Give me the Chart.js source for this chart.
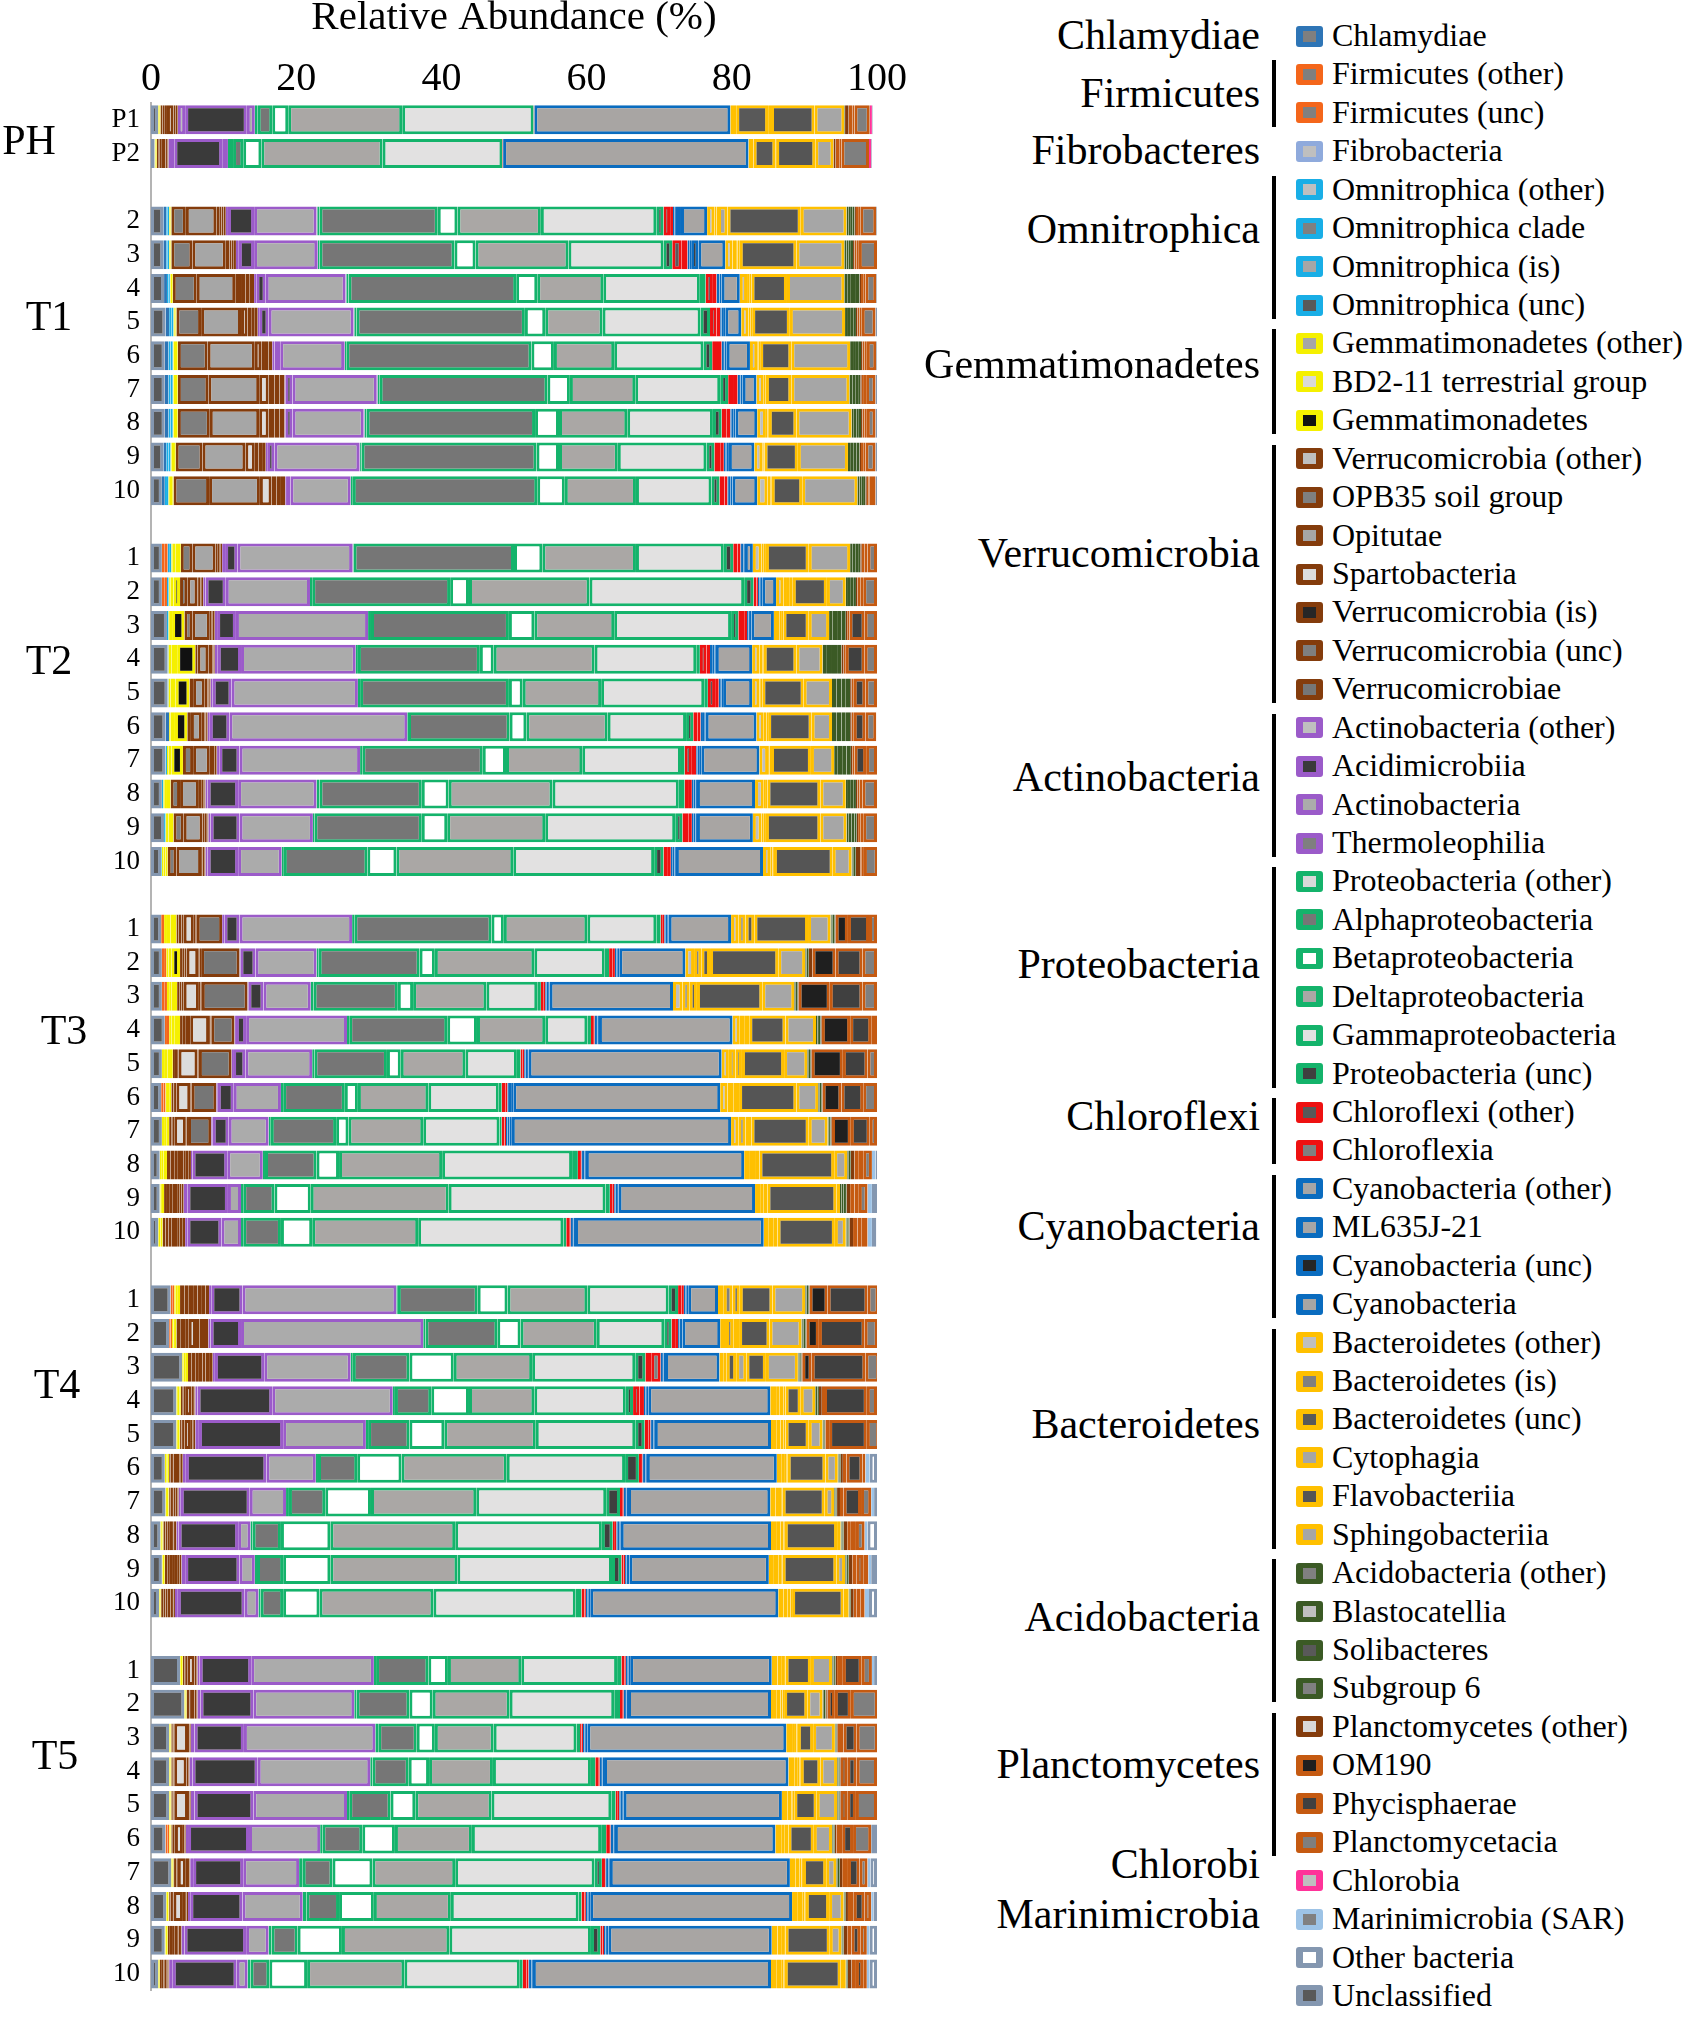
<!DOCTYPE html>
<html>
<head>
<meta charset="utf-8">
<title>Relative Abundance</title>
<script src="https://cdn.jsdelivr.net/npm/chart.js@4.4.1/dist/chart.umd.min.js"></script>
<style>
  html, body { margin: 0; padding: 0; background: #fff; }
  #page { position: relative; width: 1684px; height: 2018px; overflow: hidden;
          font-family: 'Liberation Serif', 'Times New Roman', serif; color: #000; }
  #abundChart { position: absolute; left: 0; top: 0; }
  .phylum { position: absolute; right: 424px; font-size: 42px; line-height: 44px; white-space: nowrap; }
  .entry { position: absolute; left: 1332px; font-size: 32px; line-height: 36px; white-space: nowrap; }
  .swatch { position: absolute; left: 1296px; width: 27px; height: 21px; box-sizing: border-box;
            border-style: solid; border-width: 5px 7px; border-radius: 3px; }
  .bracket { position: absolute; left: 1272px; width: 4px; background: #000; }
</style>
</head>
<body>
<div id="page">
  <canvas id="abundChart" width="960" height="2018"></canvas>
</div>
<script>
// rows: PH (P1,P2) | T1 (2-10) | T2 (1-10) | T3 (1-10) | T4 (1-10) | T5 (1-10)
const groupNames = ['PH', 'T1', 'T2', 'T3', 'T4', 'T5'];
const groupSamples = [
  ['P1', 'P2'],
  ['2', '3', '4', '5', '6', '7', '8', '9', '10'],
  ['1', '2', '3', '4', '5', '6', '7', '8', '9', '10'],
  ['1', '2', '3', '4', '5', '6', '7', '8', '9', '10'],
  ['1', '2', '3', '4', '5', '6', '7', '8', '9', '10'],
  ['1', '2', '3', '4', '5', '6', '7', '8', '9', '10']
];
const xTicks = [0, 20, 40, 60, 80, 100];

// relative abundance (%) per taxon, same row order as above
const chlamydiae       = [0,0, .4,.4,.4,.5,.5,.5,.5,.4,.4, 0,0,0,0,0,.5,0,0,0,0, 0,0,0,0,0,0,0,0,0,0, 0,0,0,0,0,0,0,0,0,0, 0,0,0,0,0,0,0,0,0,0];
const firmicutesOther  = [0,0, 0,0,0,0,0,0,0,0,0, .4,.4,0,0,0,0,0,0,0,0, .4,.3,.4,.3,0,.3,0,0,0,0, .3,.2,0,0,0,0,0,0,0,0, 0,0,0,0,0,.3,0,0,0,0];
const firmicutesUnc    = [0,0, 0,0,0,0,0,0,0,0,0, .4,.3,0,0,0,0,0,0,0,0, 0,.3,.3,.3,0,.3,0,0,0,0, .2,.2,0,0,0,0,0,0,0,0, 0,0,0,0,0,.2,0,0,0,0];
const fibrobacteria    = [0,0, 0,0,0,0,0,0,0,0,0, 0,0,0,0,0,0,0,0,0,0, 0,0,0,0,0,0,0,0,0,0, 0,0,0,0,0,0,0,0,0,0, 0,0,0,0,0,0,0,0,0,0];
const omniOther        = [0,0, .2,.2,.2,.3,.3,.3,.3,.3,.3, .3,.2,.2,.1,.1,0,.2,.2,.2,.1, 0,0,0,0,0,0,0,0,0,0, 0,0,0,0,0,0,0,0,0,0, 0,0,0,0,0,0,0,0,0,0];
const omniClade        = [0,0, .2,.2,.2,.3,.3,.3,.3,.3,.2, .2,.1,0,0,0,0,0,0,0,0, 0,0,0,0,0,0,0,0,0,0, 0,0,0,0,0,0,0,0,0,0, 0,0,0,0,0,0,0,0,0,0];
const omniIs           = [0,0, 0,0,0,0,0,0,0,0,0, 0,0,0,0,0,0,0,0,0,0, 0,0,0,0,0,0,0,0,0,0, 0,0,0,0,0,0,0,0,0,0, 0,0,0,0,0,0,0,0,0,0];
const omniUnc          = [0,0, 0,0,0,0,0,0,0,0,0, 0,0,0,0,0,0,0,0,0,0, 0,0,0,0,0,0,0,0,0,0, 0,0,0,0,0,0,0,0,0,0, 0,0,0,0,0,0,0,0,0,0];
const gemmOther        = [.1,.1, .1,.1,.1,.1,.1,.1,.1,.1,.1, .2,.2,.2,.4,.3,.2,.2,.2,.2,.2, .4,.3,.3,.3,.3,.2,.3,.2,.1,.1, .2,.2,.2,.2,.2,.2,.2,.1,.1,.1, .1,.1,.1,.1,.1,.1,.1,.1,.1,.1];
const bd211            = [.1,.1, .1,.1,.2,.2,.5,.5,.5,.5,.5, .4,.4,.3,.8,.7,.6,.4,.3,.2,.3, .5,.4,.3,.4,.5,.3,.3,.3,.2,.2, .2,.2,.3,.2,.2,.2,.2,.2,.2,.1, .2,.1,.1,.1,.1,.1,.1,.2,.2,.1];
const gemmatimonadetes = [.1,.1, .1,.1,.1,.1,.1,.1,.1,.1,.1, .7,.9,1.7,2.5,1.9,1.7,1.6,.5,.7,.3, .8,1.2,.8,.8,.7,.3,.4,.5,.3,.3, .4,.2,.3,.2,.1,.2,.1,.1,.1,.1, .1,.1,.1,.1,.1,.1,.1,.1,.1,0];
const verrucoOther     = [.3,.2, 0,0,0,0,0,0,0,0,0, 0,0,0,0,0,0,0,0,0,0, .3,.3,.3,.3,.3,.3,.3,.5,.4,.4, .6,.6,.5,.2,.2,.2,.2,.3,.4,.3, .2,.2,.2,.2,.2,.2,.2,.2,.3,.3];
const opb35            = [.3,.2, 2.0,2.9,3.3,3.4,4.1,4.2,4.4,3.7,4.9, 1.6,1.0,1.1,.3,.5,.5,1.4,1.3,1.4,1.2, .4,.3,.3,.5,.3,.2,.2,.5,.4,.4, .6,.6,.5,.2,.2,.2,.2,.3,.3,.3, .2,.2,.1,.1,.1,.2,.2,.2,.3,.2];
const opitutae         = [.3,.2, 4.2,4.6,5.3,5.5,6.5,7.0,6.8,5.9,7.0, 3.2,1.4,2.4,1.5,1.6,1.5,2.3,2.6,2.6,3.4, .3,.3,.3,.6,.2,.2,.2,.5,.4,.4, .6,.5,.5,.2,.2,.2,.2,.3,.3,.3, .2,.2,.1,.1,.1,.1,.2,.2,.3,.2];
const spartobacteria   = [.9,.6, .4,.5,.8,.9,.9,1.3,1.3,1.3,1.6, .3,.2,.2,.6,.4,.4,.6,.4,.3,.2, 1.4,1.6,2.1,2.6,2.6,1.9,1.6,.8,.6,.8, .6,1.0,.5,.9,.9,.8,.3,.3,.4,.4, 1.0,.5,1.9,1.7,1.9,1.1,1.1,1.3,.4,.2];
const verrucoIs        = [.3,.2, .3,.3,.6,.5,.5,.8,.8,.5,.7, .2,.2,.2,.1,.1,.1,.1,.2,.2,.2, .2,.2,.2,.2,.1,.1,.1,.3,.3,.3, .5,.5,.4,.2,.2,.2,.2,.2,.3,.2, .2,.2,.2,.2,.2,.2,.3,.3,.2,.2];
const verrucoUnc       = [.2,.1, .3,.3,.6,.5,.5,.7,.7,.5,.6, .2,.2,.2,.1,.2,.2,.2,.2,.2,.1, .2,.2,.2,.1,.1,.1,.2,.4,.3,.4, .6,.6,.5,.2,.2,.2,.1,.2,.3,.2, .1,.1,.1,.1,.1,.1,.2,.2,.2,.1];
const verrucomicrobiae = [.1,.1, .3,.3,.6,.4,.5,.7,.7,.5,.6, .2,.2,.1,.1,.1,.1,.1,.1,.1,.1, 3.5,5.3,6.3,3.2,4.5,3.4,3.2,.3,.3,.4, .5,.6,.5,.1,.2,.1,.1,.2,.3,.2, .1,.1,.1,.1,.1,.1,.1,.2,.2,.1];
const actinoOther      = [1.0,.8, .3,.4,.3,.2,.3,.1,.1,.2,.1, .4,.3,.3,.4,.3,.3,.3,.3,.3,.3, .3,.1,.1,.2,.2,.2,.2,.2,.5,.3, .3,.3,.3,.3,.5,.4,.3,.3,.5,.4, .3,.4,.5,.4,.5,.3,.4,.3,.4,.5];
const acidimicrobiia   = [8.5,6.6, 3.6,2.1,1.3,1.3,.8,1.0,1.0,1.0,.6, 1.7,2.8,2.6,3.2,2.6,2.7,2.8,4.2,4.0,4.2, 2.1,2.1,2.1,1.4,1.7,2.2,2.2,4.8,5.6,4.7, 4.3,4.2,6.8,10.3,11.6,11.1,9.5,8.2,7.5,9.2, 7.1,7.3,6.8,9.0,8.1,8.4,6.9,7.2,8.5,8.8];
const actinobacteria   = [1.1,.8, 8.6,8.7,11.0,11.7,8.8,11.6,9.8,11.7,8.3, 15.8,11.6,18.2,15.8,17.4,24.5,16.6,10.8,10.1,6.0, 15.5,8.4,6.5,13.9,9.2,6.5,5.5,4.9,1.8,2.7, 21.2,25.1,11.9,16.6,11.4,6.8,5.0,1.7,2.1,1.9, 16.9,13.9,18.1,15.5,12.9,9.8,7.7,8.3,3.1,1.5];
const thermoleophilia  = [0,0, .1,.1,.1,.1,.1,.1,.1,.1,0, .1,0,0,0,0,0,0,0,0,0, 0,0,0,0,0,0,0,0,0,0, 0,0,0,0,0,0,0,0,0,0, 0,0,0,0,0,0,0,0,0,0];
const proteoOther      = [.4,.7, .3,.2,.3,.3,.2,.3,.3,.2,.3, .1,.3,.4,.3,.3,.1,.3,.4,.2,.3, .3,.3,.4,.3,.3,.3,.3,.3,.3,.3, .2,.3,.3,.3,.3,.3,.4,.3,.3,.3, .3,.3,.4,.3,.3,.3,.5,.5,.4,.4];
const alphaProteo      = [2.0,1.4, 16.3,18.6,23.1,23.2,25.5,23.1,23.2,24.1,25.4, 22.1,19.0,19.0,16.8,20.5,14.0,16.6,14.1,14.8,11.5, 18.9,13.9,11.6,13.5,10.0,8.5,9.0,7.1,4.3,5.2, 11.0,9.9,7.8,5.0,5.7,5.4,5.0,3.9,3.6,3.1, 7.2,7.3,5.3,5.0,5.7,5.5,4.1,4.5,3.6,2.6];
const betaProteo       = [2.2,2.5, 2.7,2.9,2.9,2.8,3.1,3.1,3.3,3.1,3.8, 3.9,2.6,3.5,1.9,1.9,2.3,3.2,3.7,3.5,4.0, 1.7,2.1,2.1,4.1,1.9,1.8,1.7,3.1,5.0,4.3, 4.1,3.2,6.1,5.2,4.8,6.1,6.3,6.8,6.5,5.0, 2.7,3.2,2.5,2.8,3.4,4.5,5.5,4.8,6.1,5.2];
const deltaProteo      = [15.7,16.7, 11.5,12.8,9.1,7.9,8.3,9.0,9.4,8.1,9.8, 12.9,16.6,11.0,13.9,10.8,11.2,10.5,14.3,13.5,16.1, 11.5,13.7,10.1,9.4,8.9,9.7,10.3,14.2,19.0,14.6, 11.0,10.5,10.8,9.0,12.6,14.5,14.5,17.2,17.5,15.7, 10.1,10.6,8.1,8.8,10.5,10.6,11.4,10.6,14.8,13.4];
const gammaProteo      = [18.1,16.5, 15.9,13.1,13.3,13.5,12.3,11.7,11.8,12.2,10.4, 12.1,21.3,16.1,14.0,14.2,10.8,13.6,17.4,17.9,19.4, 9.5,9.7,7.0,5.8,7.1,9.7,10.5,17.9,21.6,20.0, 11.2,9.3,14.2,12.6,13.7,16.3,17.9,20.2,21.3,19.6, 13.2,14.4,11.4,13.5,16.5,17.8,19.2,17.6,19.5,15.9];
const proteoUnc        = [0,0, 1.0,1.2,.8,1.3,1.2,1.1,1.2,1.1,1.1, 1.3,1.3,1.0,.5,.5,1.0,.5,.8,1.0,1.3, .6,.6,.5,.5,.5,.4,.3,.8,.6,.4, 1.3,1.0,1.4,1.0,1.3,1.9,1.9,1.5,1.3,.8, .6,.8,.5,.6,.6,.7,1.0,.4,1.3,.4];
const chloroflexiOther = [.1,.1, .9,1.3,1.0,.9,.8,.8,.7,.8,.7, .6,.4,.8,.9,1.0,.6,1.0,.6,.8,.6, .3,.5,.4,.3,.3,.5,.4,.3,.4,.4, .5,.6,.8,.9,.5,.3,.3,.3,.3,.4, .4,.3,.2,.4,.3,.4,.3,.4,.3,.5];
const chloroflexia     = [0,0, .4,.8,.5,.5,.5,.5,.5,.5,.4, .4,.2,.4,.5,.5,.4,.6,.4,.5,.4, .2,.3,.2,.2,.2,.3,.2,.2,.2,.2, .3,.3,1.3,.6,.3,.2,.2,.2,.2,.2, .2,.2,.2,.2,.2,.2,.2,.2,.2,.3];
const cyanoOther       = [0,0, .2,.3,.2,.2,.2,.2,.2,.2,.2, .2,.2,.2,.3,.2,.2,.2,.2,.2,.2, .2,.2,.2,.2,.2,.2,.2,.2,.2,.2, .2,.2,.2,.2,.2,.2,.2,.2,.2,.2, .2,.2,.2,.2,.2,.2,.2,.2,.2,.2];
const ml635j21         = [0,0, .2,.2,.2,.2,.2,.2,.2,.2,.2, .2,.2,.2,.3,.2,.3,.3,.3,.3,.3, .2,.2,.2,.2,.2,.3,.3,.2,.2,.2, .2,.2,.2,.2,.2,.2,.2,.2,.2,.2, .2,.2,.2,.2,.2,.2,.2,.2,.2,.2];
const cyanoUnc         = [0,0, .7,1.0,.3,.3,.3,.3,.3,.3,.3, .2,.2,.2,.2,.2,.2,.2,.2,.2,.2, .2,.2,.2,.2,.2,.3,.3,.2,.2,.2, .2,.2,.2,.2,.2,.2,.2,.2,.2,.2, .2,.2,.2,.2,.2,.2,.2,.2,.2,.2];
const cyanobacteria    = [27.0,33.8, 3.6,3.7,2.5,2.2,3.2,1.9,3.0,3.5,3.4, 1.1,1.9,3.1,5.0,4.0,7.0,8.0,8.0,7.7,12.0, 8.6,9.1,17.0,18.4,26.6,28.5,30.2,21.8,18.8,26.0, 4.1,5.2,7.5,16.8,16.0,17.9,19.6,20.7,19.2,25.9, 19.5,19.7,27.4,25.4,21.8,22.1,24.8,27.8,22.5,32.8];
const bacteroOther     = [.8,.7, 1.0,1.0,1.0,1.0,1.0,1.0,1.2,1.1,1.4, 1.2,1.0,.8,1.0,1.0,1.0,1.2,1.2,1.2,1.0, 1.0,1.2,1.3,1.0,1.0,1.0,1.0,.8,.7,.7, .8,.8,.6,.8,.8,.6,.7,.7,.7,.7, .8,.8,.8,.8,.8,.8,.8,.8,.8,.8];
const bacteroIs        = [0,0, .3,.5,.3,.3,.2,.2,.2,.2,.4, .3,.5,.3,.4,.2,.4,.2,.3,.3,.3, 1.0,1.0,1.0,.7,.9,.8,1.0,.7,.5,.6, 1.2,1.0,.4,.5,.5,.4,.5,.6,.6,.6, .6,.5,.4,.5,.5,.5,.5,.6,.6,.6];
const bacteroUnc       = [4.4,3.0, .2,.2,.3,.2,.2,.1,.2,.1,.2, .3,.4,.2,.2,.2,.2,.2,.2,.3,.2, 1.2,1.2,1.0,.6,.9,.8,.8,.6,.5,.6, 1.0,.8,1.3,.5,.4,.3,.3,.4,.4,.4, .3,.3,.2,.2,.2,.3,.3,.3,.3,.3];
const cytophagia       = [.4,.1, 1.3,.3,0,0,0,0,0,0,0, 0,.4,0,0,0,0,0,0,0,0, 0,0,0,0,0,0,0,0,0,0, 0,0,1.4,.3,.3,.2,.2,.2,.2,.2, .2,.2,.2,.2,.2,.2,.2,.2,.2,.2];
const flavobacteriia   = [6.0,5.4, 10.1,7.8,4.9,5.2,4.3,3.5,3.8,4.6,4.2, 5.9,4.7,3.5,4.5,5.7,6.0,5.5,7.3,7.5,8.1, 7.4,9.4,9.0,5.0,5.8,7.9,7.9,10.3,9.5,7.9, 4.5,4.2,2.7,2.1,3.2,5.2,5.8,7.2,7.4,7.1, 3.5,3.2,2.1,2.7,3.1,3.5,3.2,3.2,6.1,7.7];
const sphingobacteriia = [4.1,2.5, 6.3,6.6,7.9,7.6,8.1,8.0,7.6,6.9,7.6, 5.7,2.6,2.8,3.6,3.9,2.8,3.2,3.5,3.6,2.6, 3.1,3.7,4.4,4.2,3.2,3.0,2.6,1.8,.5,1.5, 4.5,4.4,4.4,2.0,1.9,1.7,1.3,.5,1.2,.7, 2.9,2.1,3.0,2.3,2.8,2.5,1.4,2.0,1.6,.7];
const acidoOther       = [.1,0, .3,.3,.4,.4,.4,.4,.3,.4,.3, .3,.3,.5,.6,.6,.6,.5,.3,.3,.1, .1,.1,.1,.2,.1,.1,.1,.1,.2,.1, .1,.1,.1,.1,.1,.1,.1,.1,.1,.1, .1,.1,.1,.1,.1,.1,.1,.1,.1,.1];
const blastocatellia   = [0,0, .3,.3,.5,.4,.4,.4,.4,.4,.3, .4,.4,.6,.7,.7,.7,.6,.4,.4,.2, .2,.1,.1,.2,.1,.1,.1,.1,.3,.1, .1,.2,.1,.2,.1,.1,.1,.1,.1,.1, .1,.1,.1,.1,.1,.1,.1,.1,.1,.1];
const solibacteres     = [0,0, .2,.3,.7,.4,.4,.4,.3,.4,.3, .4,.4,.6,.7,.6,.6,.6,.4,.4,.2, .2,.2,.2,.2,.2,.2,.2,.2,.2,.2, .2,.2,.2,.2,.1,.1,.1,.1,.2,0, .2,.2,0,.1,.1,.1,.2,0,0,0];
const subgroup6        = [0,0, .3,.3,.5,.3,.3,.3,.3,.4,.2, .3,.3,.6,.6,.6,.6,.6,.3,.3,.1, .1,.1,.1,.1,.1,.1,.1,.1,.2,.1, .1,.1,.1,0,0,.1,.1,.1,.1,.1, .1,.1,.1,.1,.1,.1,.1,.1,.1,.1];
const planctoOther     = [.5,.3, .2,.2,.2,.2,.2,.2,.2,.2,.2, .2,.2,.2,.3,.2,.2,.2,.2,.2,.6, .1,.5,.1,.1,.1,.1,.1,.5,.5,.5, .1,.1,.1,.4,.1,.3,.4,.5,.5,.4, .2,.2,.1,.1,.1,.2,.3,.3,.5,.5];
const om190            = [.5,.5, .3,.3,.3,.3,.3,.3,.3,.3,.2, .4,.4,.3,.3,.3,.3,.3,.3,.3,.2, 1.7,3.2,4.3,3.9,4.3,2.6,2.6,.6,.6,.6, 2.5,1.7,1.3,.3,.5,.5,.5,.4,.6,.4, .8,1.0,.8,.9,.9,.8,.8,.8,.6,.6];
const phycisphaerae    = [.3,.3, .3,.3,.3,.3,.3,.3,.3,.3,.2, .4,.4,2.1,2.6,1.6,1.6,1.6,.4,.4,.3, 2.9,3.7,4.5,2.9,3.4,3.0,2.6,.6,.6,.6, 5.5,6.3,7.4,5.9,5.2,2.2,2.4,.8,.9,.5, 2.6,2.2,1.8,1.3,1.2,1.5,1.6,1.5,1.2,1.0];
const planctomycetacia = [2.1,3.8, 2.2,2.5,1.5,1.9,1.3,1.3,1.2,1.4,.8, 1.3,1.9,1.7,1.7,1.6,1.5,1.5,2.0,1.9,1.9, 1.1,2.0,2.0,.8,1.3,1.9,1.0,1.2,1.2,.8, 1.5,1.8,1.9,1.4,1.7,.4,1.4,1.2,.7,.6, 1.4,3.7,2.9,2.8,2.9,2.5,1.1,.9,.9,.5];
const chlorobia        = [.3,.3, 0,0,0,0,0,0,0,0,0, 0,0,0,0,0,0,0,0,0,0, 0,0,0,0,0,0,0,0,0,0, 0,0,0,0,0,0,0,0,0,0, 0,0,0,0,0,0,0,0,0,0];
const marinimicrobia   = [0,0, 0,0,0,0,0,0,0,0,0, 0,0,0,0,0,0,0,0,0,0, 0,0,0,0,0,0,0,.5,.6,.6, 0,0,0,0,0,.6,.4,.4,.4,.6, .3,0,0,0,0,0,.4,.3,.4,.4];
const otherBacteria    = [.1,.1, .2,.2,.2,.2,.2,.2,.2,.2,.2, 0,0,0,0,0,0,0,0,0,0, 0,0,0,0,0,0,0,.2,.7,.6, 0,0,0,0,0,1.0,.6,1.3,.8,1.1, .4,0,0,0,0,.8,.9,.5,1.0,1.0];
const unclassified     = [1.0,.5, 1.7,1.7,1.8,2.0,1.9,1.9,1.9,1.7,1.5, 1.5,1.5,2.2,2.3,2.3,2.0,2.0,1.5,1.8,1.4, 1.4,1.5,1.5,1.9,1.5,1.4,1.5,1.2,1.2,1.0, 2.7,2.5,4.3,3.5,3.5,1.9,2.0,1.3,1.5,1.1, 4.0,4.6,2.5,2.5,2.5,2.0,2.8,2.1,1.9,1.0];

// legend order (top to bottom)
const taxonNames = [
  'Chlamydiae', 'Firmicutes (other)', 'Firmicutes (unc)', 'Fibrobacteria',
  'Omnitrophica (other)', 'Omnitrophica clade', 'Omnitrophica (is)', 'Omnitrophica (unc)',
  'Gemmatimonadetes (other)', 'BD2-11 terrestrial group', 'Gemmatimonadetes',
  'Verrucomicrobia (other)', 'OPB35 soil group', 'Opitutae', 'Spartobacteria',
  'Verrucomicrobia (is)', 'Verrucomicrobia (unc)', 'Verrucomicrobiae',
  'Actinobacteria (other)', 'Acidimicrobiia', 'Actinobacteria', 'Thermoleophilia',
  'Proteobacteria (other)', 'Alphaproteobacteria', 'Betaproteobacteria',
  'Deltaproteobacteria', 'Gammaproteobacteria', 'Proteobacteria (unc)',
  'Chloroflexi (other)', 'Chloroflexia',
  'Cyanobacteria (other)', 'ML635J-21', 'Cyanobacteria (unc)', 'Cyanobacteria',
  'Bacteroidetes (other)', 'Bacteroidetes (is)', 'Bacteroidetes (unc)',
  'Cytophagia', 'Flavobacteriia', 'Sphingobacteriia',
  'Acidobacteria (other)', 'Blastocatellia', 'Solibacteres', 'Subgroup 6',
  'Planctomycetes (other)', 'OM190', 'Phycisphaerae', 'Planctomycetacia',
  'Chlorobia', 'Marinimicrobia (SAR)', 'Other bacteria', 'Unclassified'
];
const taxonValues = [
  chlamydiae, firmicutesOther, firmicutesUnc, fibrobacteria,
  omniOther, omniClade, omniIs, omniUnc,
  gemmOther, bd211, gemmatimonadetes,
  verrucoOther, opb35, opitutae, spartobacteria, verrucoIs, verrucoUnc, verrucomicrobiae,
  actinoOther, acidimicrobiia, actinobacteria, thermoleophilia,
  proteoOther, alphaProteo, betaProteo, deltaProteo, gammaProteo, proteoUnc,
  chloroflexiOther, chloroflexia,
  cyanoOther, ml635j21, cyanoUnc, cyanobacteria,
  bacteroOther, bacteroIs, bacteroUnc, cytophagia, flavobacteriia, sphingobacteriia,
  acidoOther, blastocatellia, solibacteres, subgroup6,
  planctoOther, om190, phycisphaerae, planctomycetacia,
  chlorobia, marinimicrobia, otherBacteria, unclassified
];

// phylum groups in the legend: [name, first entry, last entry]
const phyla = [
  ['Chlamydiae', 0, 0], ['Firmicutes', 1, 2], ['Fibrobacteres', 3, 3],
  ['Omnitrophica', 4, 7], ['Gemmatimonadetes', 8, 10], ['Verrucomicrobia', 11, 17],
  ['Actinobacteria', 18, 21], ['Proteobacteria', 22, 27], ['Chloroflexi', 28, 29],
  ['Cyanobacteria', 30, 33], ['Bacteroidetes', 34, 39], ['Acidobacteria', 40, 43],
  ['Planctomycetes', 44, 47], ['Chlorobi', 48, 48], ['Marinimicrobia', 49, 49]
];

// ---- styles ----
const FONT = "'Liberation Serif', 'Times New Roman', serif";
const edge = {
  chla: '#2e75b6', firm: '#f4661b', fibr: '#8faadc', omni: '#19aee6', gemm: '#f5f000',
  verr: '#843c0c', acti: '#9b5bc9', prot: '#14b36b', chlf: '#ee1111', cyan: '#0a6cbf',
  bact: '#ffc000', acid: '#3b5a25', plab: '#843c0c', plan: '#c55a11', chlb: '#ff3399',
  mari: '#9dc3e6', misc: '#8497b0'
};
const taxonStyle = [
  [edge.chla, '#7f7f7f'], [edge.firm, '#7f7f7f'], [edge.firm, '#808080'], [edge.fibr, '#bfbfbf'],
  [edge.omni, '#bfbfbf'], [edge.omni, '#808080'], [edge.omni, '#a6a6a6'], [edge.omni, '#595959'],
  [edge.gemm, '#a6a6a6'], [edge.gemm, '#d9d9d9'], [edge.gemm, '#111111'],
  [edge.verr, '#bfbfbf'], [edge.verr, '#7f7f7f'], [edge.verr, '#a6a6a6'], [edge.verr, '#dcdcdc'],
  [edge.verr, '#262626'], [edge.verr, '#7f7f7f'], [edge.verr, '#767676'],
  [edge.acti, '#bfbfbf'], [edge.acti, '#3a3a3a'], [edge.acti, '#ababab'], [edge.acti, '#7f7f7f'],
  [edge.prot, '#d9d9d9'], [edge.prot, '#767676'], [edge.prot, '#ffffff'],
  [edge.prot, '#aaa7a5'], [edge.prot, '#e2e1e1'], [edge.prot, '#3f3f3f'],
  [edge.chlf, '#595959'], [edge.chlf, '#808080'],
  [edge.cyan, '#a6a6a6'], [edge.cyan, '#a6a6a6'], [edge.cyan, '#262626'], [edge.cyan, '#a8a5a3'],
  [edge.bact, '#bfbfbf'], [edge.bact, '#808080'], [edge.bact, '#595959'],
  [edge.bact, '#a6a6a6'], [edge.bact, '#555555'], [edge.bact, '#a6a6a6'],
  [edge.acid, '#808080'], [edge.acid, '#bfbfbf'], [edge.acid, '#595959'], [edge.acid, '#808080'],
  [edge.plab, '#d9d9d9'], [edge.plan, '#1f1f1f'], [edge.plan, '#404040'], [edge.plan, '#7f7f7f'],
  [edge.chlb, '#bfbfbf'], [edge.mari, '#808080'], [edge.misc, '#ffffff'], [edge.misc, '#595959']
];

// layout of labels (not data)
const groupLabelRow = [0.68, 2.9, 3.1, 3.1, 2.6, 2.6];
const groupLabelX = [29, 49, 49, 64, 57, 55];
const phylumLabelRow = [0, 1.5, 3, 5.05, 8.56, 13.48, 19.3, 24.18, 28.13, 31.0, 36.15, 41.17, 45.0, 47.6, 48.9];
const LEG_TOP = 36, LEG_STEP = 38.43;

// ---- rows with a blank spacer between groups ----
const rowLabels = [];
const groupStart = [];
groupSamples.forEach((s, gi) => {
  if (gi > 0) rowLabels.push('');
  groupStart.push(rowLabels.length);
  s.forEach(lbl => rowLabels.push(lbl));
});
function withSpacers(values) {
  const out = [];
  let k = 0;
  groupSamples.forEach((s, gi) => {
    if (gi > 0) out.push(null);
    s.forEach(() => out.push(values[k++]));
  });
  return out;
}

// stacking: Unclassified drawn first (left), then legend order
const stackOrder = [taxonNames.length - 1].concat(taxonNames.slice(0, -1).map((_, i) => i));
const datasets = stackOrder.map(i => ({
  label: taxonNames[i],
  data: withSpacers(taxonValues[i]),
  backgroundColor: taxonStyle[i][1],
  borderColor: taxonStyle[i][0],
  borderWidth: 3,
  borderSkipped: false,
  categoryPercentage: 1,
  barPercentage: 0.86
}));

const groupLabels = {
  id: 'groupLabels',
  afterDraw(chart) {
    const { ctx } = chart;
    const y = chart.scales.y;
    ctx.save();
    ctx.fillStyle = '#000';
    ctx.font = '42px ' + FONT;
    ctx.textAlign = 'center';
    ctx.textBaseline = 'middle';
    groupNames.forEach((g, i) => {
      ctx.fillText(g, groupLabelX[i], y.getPixelForValue(groupStart[i] + groupLabelRow[i]));
    });
    ctx.restore();
  }
};

Chart.defaults.font.family = FONT;
Chart.defaults.color = '#000';

new Chart(document.getElementById('abundChart'), {
  type: 'bar',
  data: { labels: rowLabels, datasets: datasets },
  options: {
    indexAxis: 'y',
    responsive: false,
    animation: false,
    devicePixelRatio: 1,
    layout: { padding: { left: 0, right: 83, top: 0, bottom: 17 } },
    plugins: { legend: { display: false }, tooltip: { enabled: false } },
    scales: {
      x: {
        type: 'linear', position: 'top', stacked: true, min: 0, max: 100,
        afterBuildTicks: s => { s.ticks = xTicks.map(v => ({ value: v })); },
        afterFit: s => { s.height = 103; },
        ticks: { font: { size: 40 }, color: '#000', padding: 0 },
        grid: { display: false, drawTicks: false },
        border: { display: false },
        title: { display: true, text: 'Relative Abundance (%)', color: '#000',
                 font: { size: 41, lineHeight: 0.9 }, padding: { top: 0, bottom: 0 } }
      },
      y: {
        type: 'category', stacked: true,
        afterFit: s => { s.width = 151; },
        ticks: { font: { size: 27 }, color: '#000', padding: 11, autoSkip: false },
        grid: { display: false, drawTicks: false },
        border: { display: true, color: '#b4b4b4', width: 2 }
      }
    }
  },
  plugins: [groupLabels]
});

// ---- legend (HTML) ----
const page = document.getElementById('page');
function el(cls, css, text) {
  const d = document.createElement('div');
  d.className = cls;
  Object.assign(d.style, css);
  if (text) d.textContent = text;
  page.appendChild(d);
  return d;
}
const rowY = i => LEG_TOP + i * LEG_STEP;
taxonNames.forEach((name, i) => {
  const y = rowY(i);
  el('swatch', { top: (y - 10.5) + 'px', borderColor: taxonStyle[i][0], background: taxonStyle[i][1] });
  el('entry', { top: (y - 19) + 'px' }, name);
});
phyla.forEach(([name, first, last], i) => {
  el('phylum', { top: (rowY(phylumLabelRow[i]) - 23) + 'px' }, name);
  if (last > first) {
    const top = rowY(first) - 14, bottom = rowY(last) + 14;
    el('bracket', { top: top + 'px', height: (bottom - top) + 'px' });
  }
});
</script>
</body>
</html>
